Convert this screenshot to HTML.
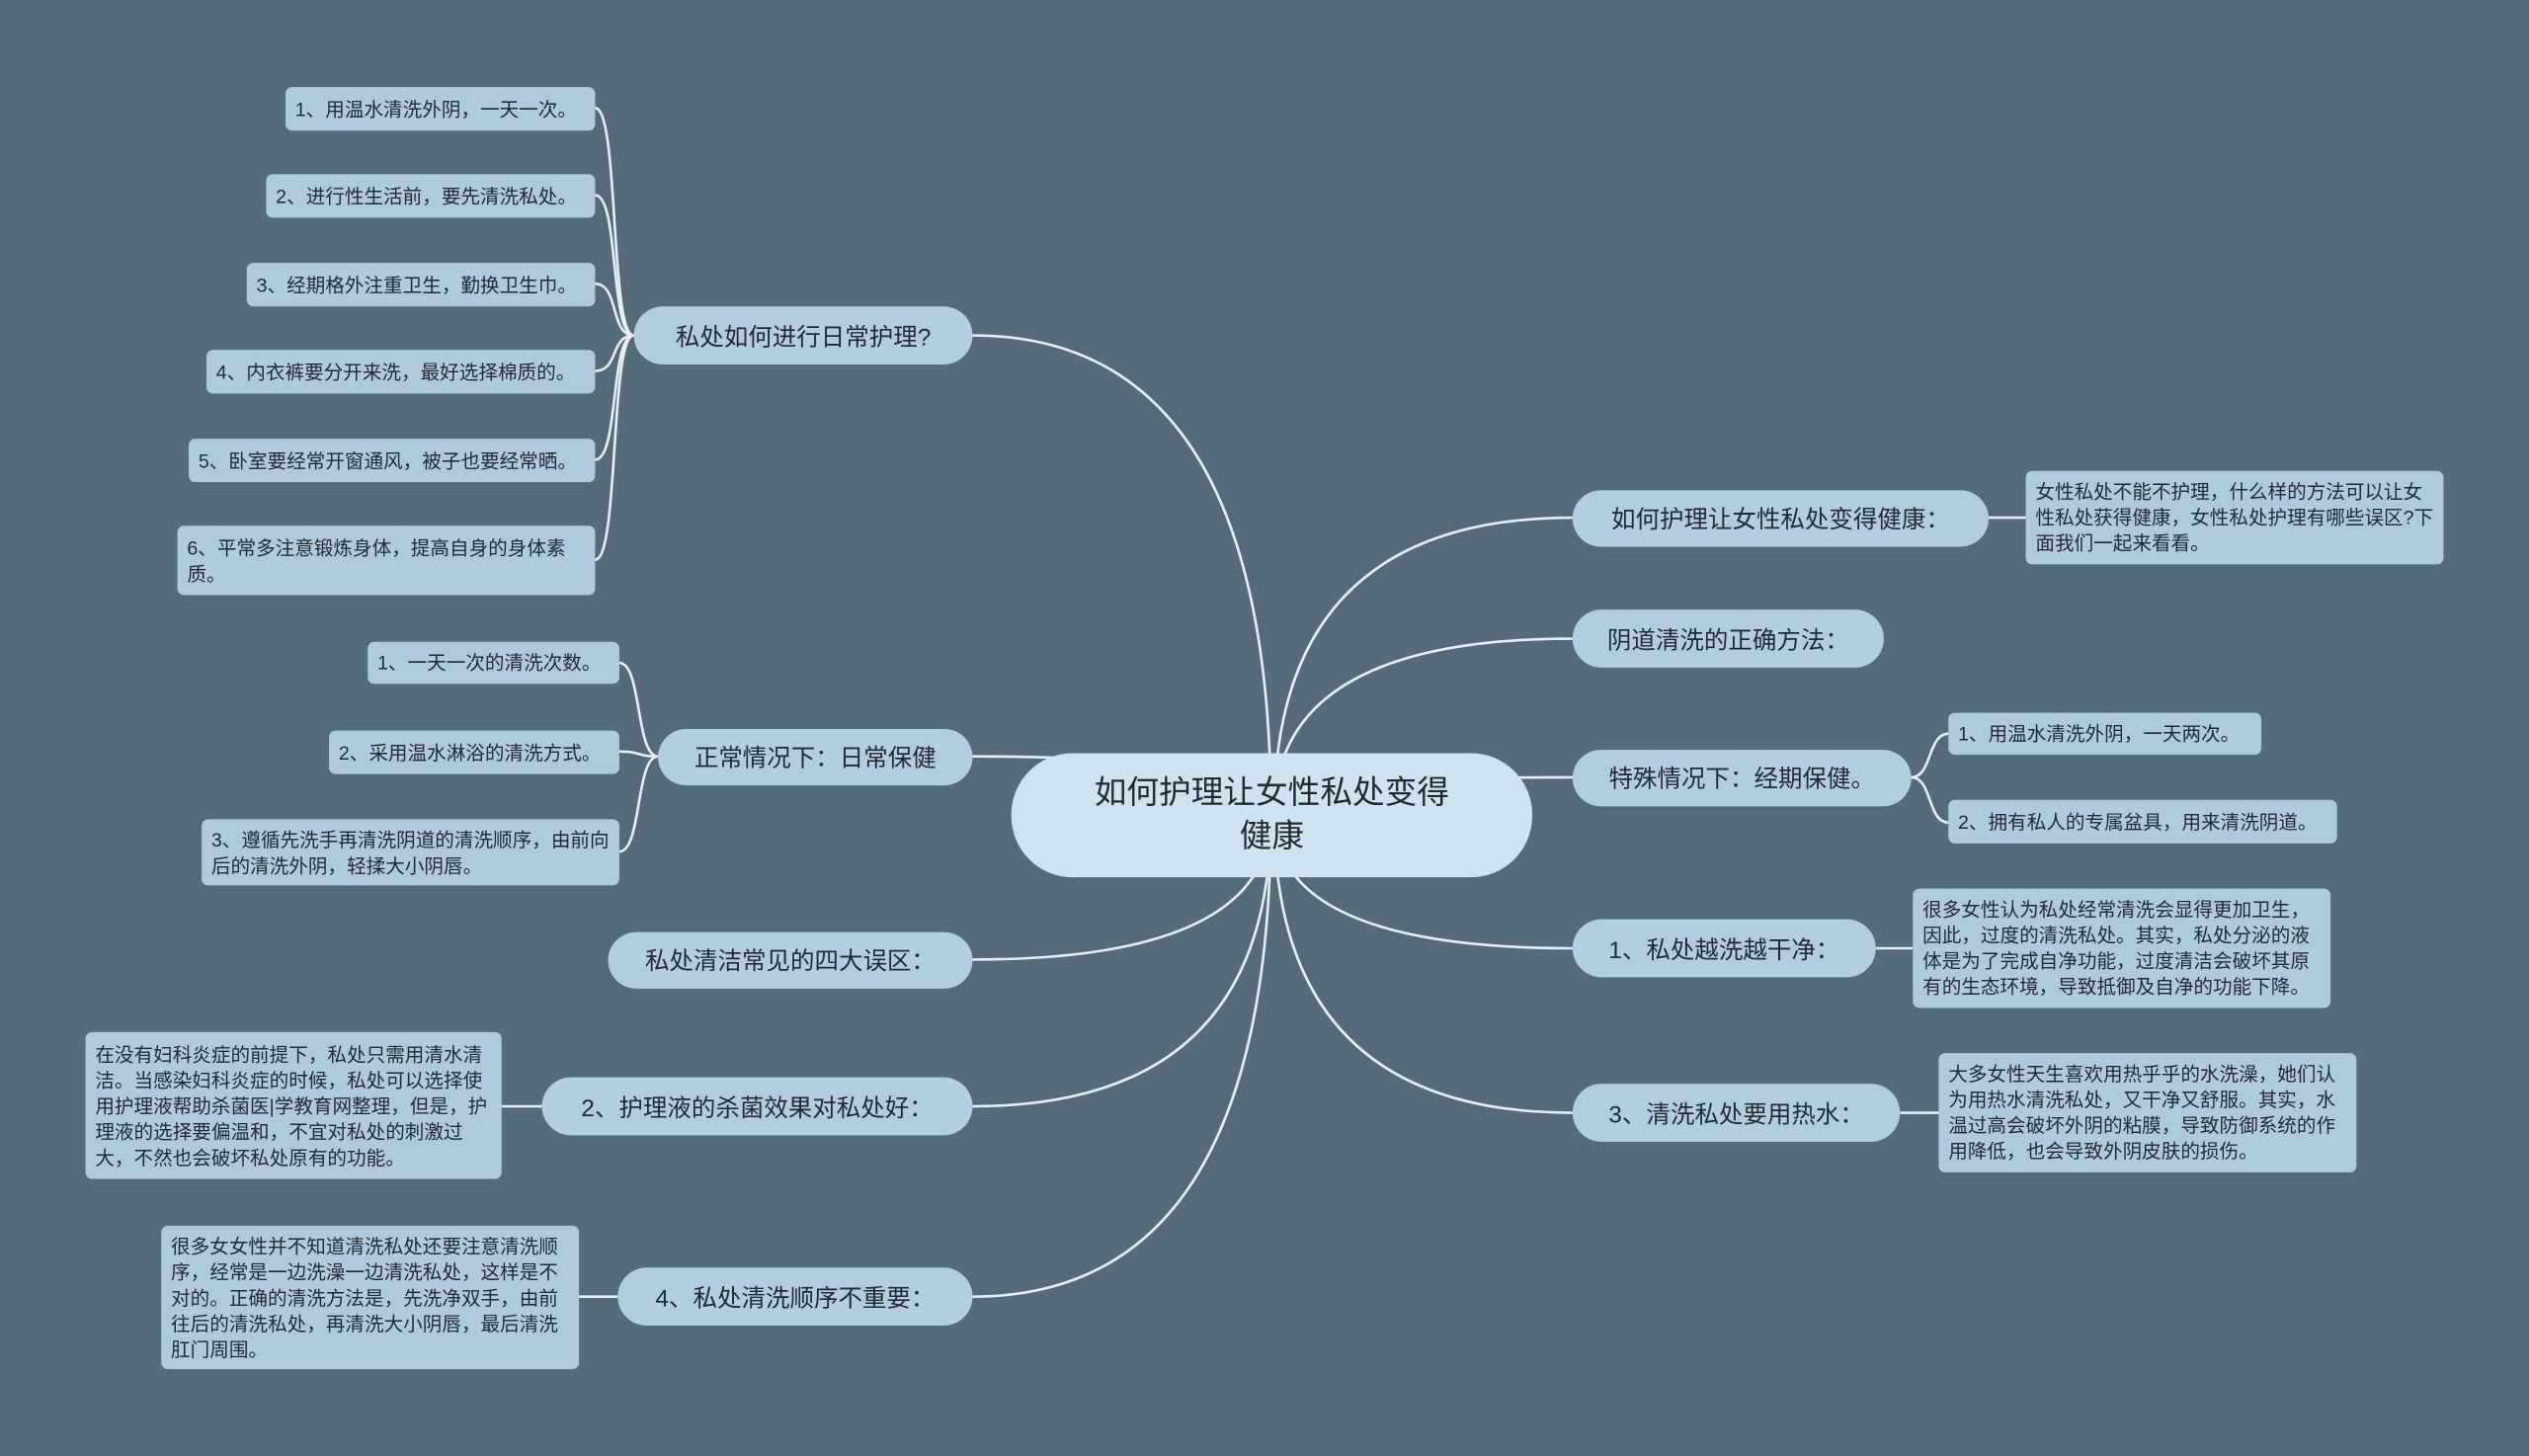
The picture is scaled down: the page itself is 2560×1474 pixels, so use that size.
<!DOCTYPE html>
<html><head><meta charset="utf-8"><style>
html,body{margin:0;padding:0;background:#546b7a;overflow:hidden;}
#w{position:absolute;left:0;top:0;width:1568px;height:903px;transform:scale(1.63265);transform-origin:0 0;font-family:"Liberation Sans","Noto Sans CJK SC",sans-serif;}
.n{position:absolute;box-sizing:border-box;display:flex;align-items:center;color:#1f2a33;}
.c{background:#cde4f0;border-radius:38px;justify-content:center;text-align:center;font-size:20px;line-height:27px;}
.b{background:#b3cde0;border-radius:18px;justify-content:center;font-size:15px;white-space:nowrap;}
.l{background:#afc9dd;border-radius:4px;font-size:12px;line-height:16px;padding:0 6px;}
svg{position:absolute;left:0;top:0;}
</style></head><body><div id="w">
<svg width="1568" height="903" fill="none" stroke="#e6eff5" stroke-width="1.6">
<path d="M788,505 Q788,208 603,208"/>
<path d="M788,505 Q788,469 603,469"/>
<path d="M788,505 Q788,595 603,595"/>
<path d="M788,505 Q788,686 603,686"/>
<path d="M788,505 Q788,804 603,804"/>
<path d="M790,505 Q790,321 975,321"/>
<path d="M790,505 Q790,396 975,396"/>
<path d="M790,505 Q790,482 975,482"/>
<path d="M790,505 Q790,588 975,588"/>
<path d="M790,505 Q790,690 975,690"/>
<path d="M393,208 C378,208 384,67 369,67"/>
<path d="M393,208 C378,208 384,121 369,121"/>
<path d="M393,208 C378,208 384,176 369,176"/>
<path d="M393,208 C378,208 384,230 369,230"/>
<path d="M393,208 C378,208 384,285 369,285"/>
<path d="M393,208 C378,208 384,347 369,347"/>
<path d="M408,469 C394,469 398,411 384,411"/>
<path d="M408,469 C394,469 398,466 384,466"/>
<path d="M408,469 C394,469 398,528 384,528"/>
<path d="M336,686 L311,686"/>
<path d="M383,804 L359,804"/>
<path d="M1233,321 L1256,321"/>
<path d="M1185,482 C1198,482 1195,455 1208,455"/>
<path d="M1185,482 C1198,482 1195,510 1208,510"/>
<path d="M1163,588 L1186,588"/>
<path d="M1178,690 L1202,690"/>
</svg>
<div class="n c" style="left:627px;top:467px;width:323px;height:77px;">如何护理让女性私处变得<br>健康</div>
<div class="n b" style="left:393px;top:190px;width:210px;height:36px;">私处如何进行日常护理?</div>
<div class="n b" style="left:408px;top:452px;width:195px;height:35px;">正常情况下：日常保健</div>
<div class="n b" style="left:377px;top:578px;width:226px;height:35px;">私处清洁常见的四大误区：</div>
<div class="n b" style="left:336px;top:668px;width:267px;height:36px;">2、护理液的杀菌效果对私处好：</div>
<div class="n b" style="left:383px;top:786px;width:220px;height:36px;">4、私处清洗顺序不重要：</div>
<div class="n b" style="left:975px;top:304px;width:258px;height:35px;">如何护理让女性私处变得健康：</div>
<div class="n b" style="left:975px;top:378px;width:193px;height:36px;">阴道清洗的正确方法：</div>
<div class="n b" style="left:975px;top:465px;width:210px;height:35px;">特殊情况下：经期保健。</div>
<div class="n b" style="left:975px;top:570px;width:188px;height:36px;">1、私处越洗越干净：</div>
<div class="n b" style="left:975px;top:672px;width:203px;height:36px;">3、清洗私处要用热水：</div>
<div class="n l" style="left:177px;top:54px;width:192px;height:27px;">1、用温水清洗外阴，一天一次。</div>
<div class="n l" style="left:165px;top:108px;width:204px;height:27px;">2、进行性生活前，要先清洗私处。</div>
<div class="n l" style="left:153px;top:163px;width:216px;height:27px;">3、经期格外注重卫生，勤换卫生巾。</div>
<div class="n l" style="left:128px;top:217px;width:241px;height:27px;">4、内衣裤要分开来洗，最好选择棉质的。</div>
<div class="n l" style="left:117px;top:272px;width:252px;height:27px;">5、卧室要经常开窗通风，被子也要经常晒。</div>
<div class="n l" style="left:110px;top:326px;width:259px;height:43px;">6、平常多注意锻炼身体，提高自身的身体素质。</div>
<div class="n l" style="left:228px;top:398px;width:156px;height:26px;">1、一天一次的清洗次数。</div>
<div class="n l" style="left:204px;top:453px;width:180px;height:27px;">2、采用温水淋浴的清洗方式。</div>
<div class="n l" style="left:125px;top:508px;width:259px;height:41px;">3、遵循先洗手再清洗阴道的清洗顺序，由前向后的清洗外阴，轻揉大小阴唇。</div>
<div class="n l" style="left:53px;top:640px;width:258px;height:91px;">在没有妇科炎症的前提下，私处只需用清水清洁。当感染妇科炎症的时候，私处可以选择使用护理液帮助杀菌医|学教育网整理，但是，护理液的选择要偏温和，不宜对私处的刺激过大，不然也会破坏私处原有的功能。</div>
<div class="n l" style="left:100px;top:760px;width:259px;height:89px;">很多女女性并不知道清洗私处还要注意清洗顺序，经常是一边洗澡一边清洗私处，这样是不对的。正确的清洗方法是，先洗净双手，由前往后的清洗私处，再清洗大小阴唇，最后清洗肛门周围。</div>
<div class="n l" style="left:1256px;top:292px;width:259px;height:58px;">女性私处不能不护理，什么样的方法可以让女性私处获得健康，女性私处护理有哪些误区?下面我们一起来看看。</div>
<div class="n l" style="left:1208px;top:442px;width:194px;height:26px;">1、用温水清洗外阴，一天两次。</div>
<div class="n l" style="left:1208px;top:496px;width:241px;height:27px;">2、拥有私人的专属盆具，用来清洗阴道。</div>
<div class="n l" style="left:1186px;top:551px;width:259px;height:74px;">很多女性认为私处经常清洗会显得更加卫生，因此，过度的清洗私处。其实，私处分泌的液体是为了完成自净功能，过度清洁会破坏其原有的生态环境，导致抵御及自净的功能下降。</div>
<div class="n l" style="left:1202px;top:653px;width:259px;height:74px;">大多女性天生喜欢用热乎乎的水洗澡，她们认为用热水清洗私处，又干净又舒服。其实，水温过高会破坏外阴的粘膜，导致防御系统的作用降低，也会导致外阴皮肤的损伤。</div>
</div></body></html>
